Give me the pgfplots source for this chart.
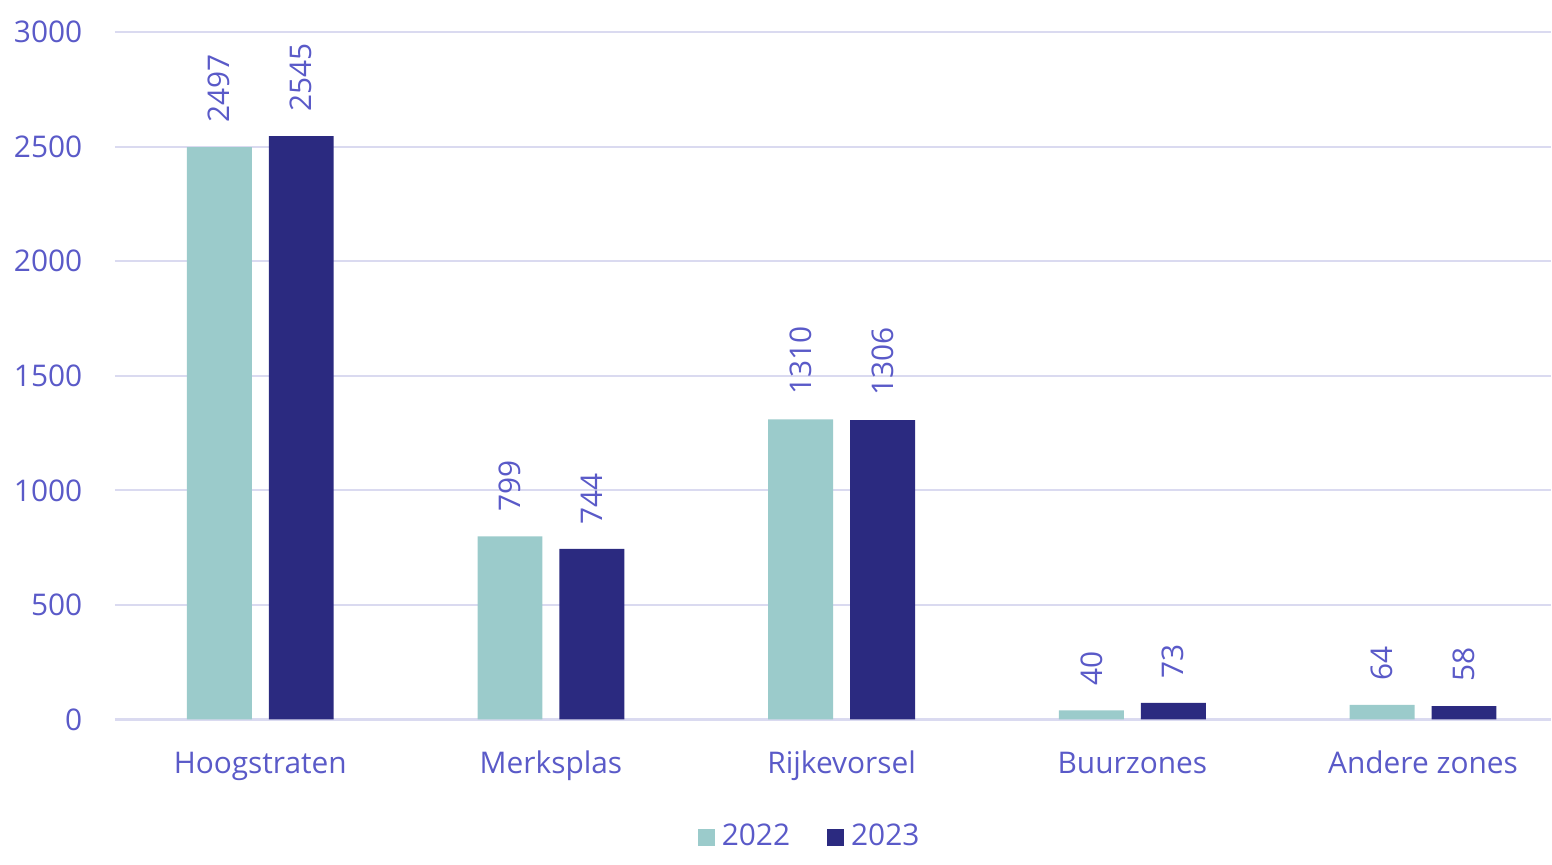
\documentclass[border=0pt]{standalone}
\usepackage{fontspec}
\setmainfont{Open Sans}
\usepackage{pgfplots}
\pgfplotsset{compat=1.18}

\definecolor{teal22}{RGB}{155,203,203}
\definecolor{navy23}{RGB}{43,42,128}
\definecolor{txt}{RGB}{90,90,200}
\definecolor{gridc}{RGB}{218,218,240}

\begin{document}
\begin{tikzpicture}[font=\fontsize{8.5}{10}\selectfont]
\path (-1.15cm,-1.3cm) rectangle (14.37cm,7.2cm);
\begin{axis}[
    at={(0,0)}, anchor=south west,
    scale only axis,
    width=14.37cm, height=6.88cm,
    ybar, bar width=6.5mm, ybar=1.7mm,
    xmin=-0.5, xmax=4.44,
    ymin=0, ymax=3000,
    xtick=data,
    xticklabels={Hoogstraten, Merksplas, Rijkevorsel, Buurzones, Andere zones},
    ytick={0,500,...,3000},
    ymajorgrids,
    grid style={gridc, line width=0.6pt},
    axis line style={draw=none},
    tick style={draw=none},
    /pgf/number format/assume math mode=true,
    /pgf/number format/1000 sep={},
    scaled y ticks=false,
    yticklabel style={txt, anchor=east, inner sep=0pt, xshift=-3.2mm},
    xticklabel style={txt, anchor=base, inner sep=0pt, yshift=-3.9mm},
    nodes near coords,
    every node near coord/.append style={txt, rotate=90, anchor=west, inner sep=2.4mm},
    clip=false,
    legend style={at={(0.4855,-0.1715)}, anchor=center, draw=none, fill=none,
        legend columns=2, text=txt,
        /tikz/every even column/.append style={column sep=3mm}},
    legend image code/.code={\fill[#1] (0,-0.85mm) rectangle (1.7mm,0.85mm);},
]
\addplot[fill=teal22, draw=none] coordinates {(0,2497) (1,799) (2,1310) (3,40) (4,64)};
\addplot[fill=navy23, draw=none] coordinates {(0,2545) (1,744) (2,1306) (3,73) (4,58)};
\legend{2022, 2023}
\end{axis}
\end{tikzpicture}
\end{document}
